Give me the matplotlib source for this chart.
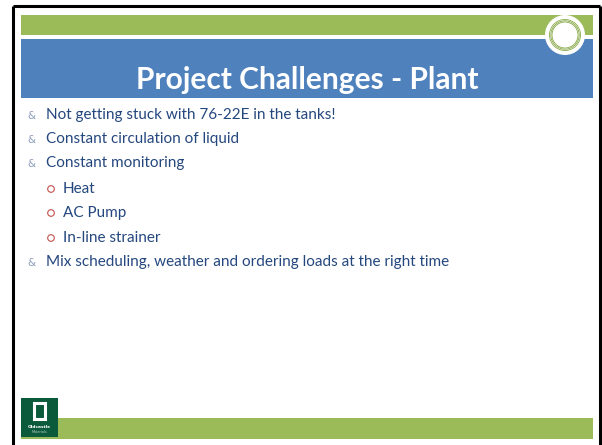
import matplotlib.pyplot as plt
from matplotlib.patches import Rectangle, Circle

title = "Project Challenges - Plant"
bullets = [
    (0, "Not getting stuck with 76-22E in the tanks!"),
    (0, "Constant circulation of liquid"),
    (0, "Constant monitoring"),
    (1, "Heat"),
    (1, "AC Pump"),
    (1, "In-line strainer"),
    (0, "Mix scheduling, weather and ordering loads at the right time"),
]
line_y = [115, 139, 163, 189, 213, 238, 262]

green = '#9BBB59'
blue = '#4F81BD'
txt = '#24477E'

fig = plt.figure(figsize=(6.02, 4.45), dpi=100)
ax = fig.add_axes([0, 0, 1, 1])
ax.set_xlim(0, 602)
ax.set_ylim(445, 0)
ax.axis('off')

# slide frame
ax.plot([13, 13], [6, 445], color='black', lw=2.2, solid_capstyle='butt')
ax.plot([13, 600], [6, 6], color='black', lw=2.2, solid_capstyle='butt')
ax.plot([600, 600], [6, 445], color='black', lw=2.2, solid_capstyle='butt')

# header bars
ax.add_patch(Rectangle((21, 15), 572, 20, color=green, lw=0))
ax.add_patch(Rectangle((21, 39), 572, 59, color=blue, lw=0))
ax.add_patch(Circle((565, 35), 20, color='white', lw=0, zorder=3))
for r in (15.5, 14.2, 13):
    ax.add_patch(Circle((565, 35), r, fill=False, ec='#7FA33A', lw=0.55, zorder=4))

ax.text(307, 80, title, color='white', fontsize=21.5, fontweight='bold',
        family='Lato', ha='center', va='center')

# body
for (lvl, s), y in zip(bullets, line_y):
    if lvl == 0:
        ax.text(31, y + 1, '&', color='#8C9BB8', fontsize=7.5, ha='center', va='center',
                family='DejaVu Sans')
        ax.text(46, y, s, color=txt, fontsize=11, family='Lato', va='center')
    else:
        ax.add_patch(Circle((51, y), 3.3, fill=False, ec='#C0504D', lw=0.8))
        ax.text(63, y, s, color=txt, fontsize=11, family='Lato', va='center')

# footer bar and logo
ax.add_patch(Rectangle((21, 418), 572, 21, color=green, lw=0))
ax.add_patch(Rectangle((21, 398), 37, 39, color='#0B5A3C', lw=0, zorder=3))
ax.add_patch(Rectangle((34, 403), 11, 16, fill=False, ec='white', lw=2.2, zorder=4))
ax.text(39.5, 427, 'Oldcastle', color='white', fontsize=3.2, fontweight='bold',
        ha='center', va='center', zorder=5)
ax.text(39.5, 432, 'Materials', color='#B8D0C4', fontsize=2.4,
        ha='center', va='center', zorder=5)

fig.savefig('out.png', dpi=100)
